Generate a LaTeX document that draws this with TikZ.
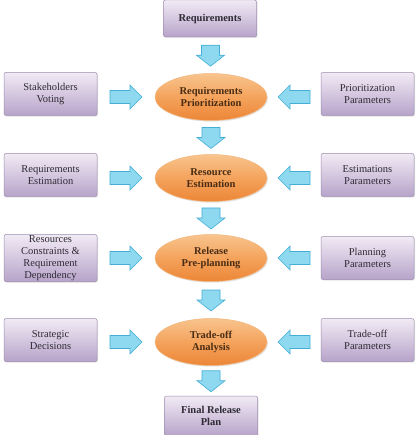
\documentclass[tikz,border=0pt]{standalone}
\usepackage{fontspec}
\setmainfont{Liberation Serif}
\usetikzlibrary{shapes.geometric,shadows,calc}
\definecolor{boxtop}{HTML}{F1EBF5}
\definecolor{boxbot}{HTML}{B7A3C9}
\definecolor{boxline}{HTML}{9E8DB0}
\definecolor{boxtext}{HTML}{2E2A33}
\definecolor{elltop}{HTML}{F8C48E}
\definecolor{ellmid}{HTML}{F4A35C}
\definecolor{ellbot}{HTML}{EC8637}
\definecolor{ellline}{HTML}{F2B57A}
\definecolor{elltext}{HTML}{4A2C14}
\definecolor{arrfill}{HTML}{8ED8F0}
\definecolor{arrline}{HTML}{43AFD6}
\tikzset{
  sidebox/.style={rectangle, rounded corners=2pt, draw=boxline, line width=0.5pt,
    top color=boxtop, bottom color=boxbot, minimum width=93pt, minimum height=43pt,
    inner sep=1pt, align=center, text=boxtext, font=\fontsize{10.5}{12}\selectfont,
    drop shadow={opacity=0.2, shadow xshift=1pt, shadow yshift=-1.2pt}},
  mainbox/.style={sidebox, font=\bfseries\fontsize{10.5}{12}\selectfont},
  procell/.style={ellipse, draw=ellline, line width=0.5pt, top color=elltop,
    bottom color=ellbot, middle color=ellmid, minimum width=112pt, minimum height=47pt,
    inner sep=0pt, align=center, text=elltext, font=\bfseries\fontsize{10.5}{12}\selectfont,
    drop shadow={opacity=0.2, shadow xshift=1pt, shadow yshift=-1.2pt}},
  arrowstyle/.style={fill=arrfill, draw=arrline, line width=0.6pt, line join=miter},
  darr/.pic={\path[arrowstyle] (-9,-10) -- (9,-10) -- (9,0) -- (14,0) -- (0,11) -- (-14,0) -- (-9,0) -- cycle;},
  rarr/.pic={\path[arrowstyle] (-16,-6.5) -- (4,-6.5) -- (4,-12) -- (16,0) -- (4,12) -- (4,6.5) -- (-16,6.5) -- cycle;},
  larr/.pic={\path[arrowstyle] (16,-6.5) -- (-4,-6.5) -- (-4,-12) -- (-16,0) -- (-4,12) -- (-4,6.5) -- (16,6.5) -- cycle;},
}
\begin{document}
\begin{tikzpicture}[x=1pt,y=-1pt]
\useasboundingbox[fill=white] (0,0) rectangle (417,435);
% centre column
\node[mainbox, minimum height=37pt] (req) at (210,18.5) {Requirements};
\node[procell] (e1) at (211,97) {Requirements\\Prioritization};
\node[procell] (e2) at (211,178) {Resource\\Estimation};
\node[procell] (e3) at (211,258) {Release\\Pre-planning};
\node[procell] (e4) at (211,342) {Trade-off\\Analysis};
\node[mainbox, minimum height=40pt] (final) at (211,416) {Final Release\\Plan};
% left column
\node[sidebox] (l1) at (50.5,94) {Stakeholders\\Voting};
\node[sidebox] (l2) at (50.5,175) {Requirements\\Estimation};
\node[sidebox, minimum height=47pt] (l3) at (50.5,258) {Resources\\Constraints \&\\Requirement\\Dependency};
\node[sidebox] (l4) at (50.5,340) {Strategic\\Decisions};
% right column
\node[sidebox] (r1) at (367.5,94) {Prioritization\\Parameters};
\node[sidebox] (r2) at (367.5,175) {Estimations\\Parameters};
\node[sidebox] (r3) at (367.5,258) {Planning\\Parameters};
\node[sidebox] (r4) at (367.5,340) {Trade-off\\Parameters};
% vertical block arrows
\pic at ($(req.south)!0.5!(e1.north)$) {darr};
\pic at ($(e1.south)!0.5!(e2.north)$) {darr};
\pic at ($(e2.south)!0.5!(e3.north)$) {darr};
\pic at ($(e3.south)!0.5!(e4.north)$) {darr};
\pic at ($(e4.south)!0.5!(final.north)$) {darr};
% horizontal block arrows
\foreach \i in {1,2,3,4}{
  \pic at ($(l\i.east|-e\i.center)!0.5!(e\i.west)$) {rarr};
  \pic at ($(r\i.west|-e\i.center)!0.5!(e\i.east)$) {larr};
}
\end{tikzpicture}
\end{document}
